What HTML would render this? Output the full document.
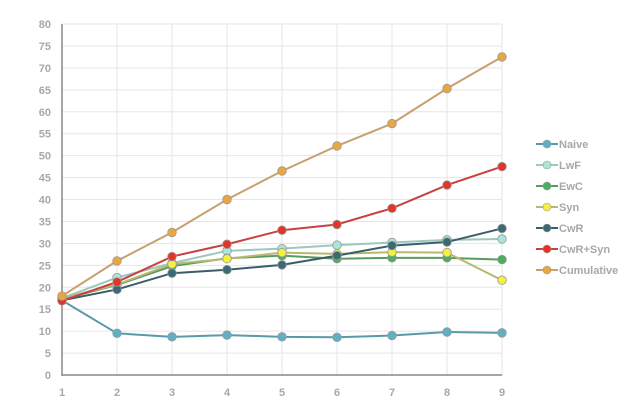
<!DOCTYPE html>
<html><head><meta charset="utf-8"><style>
html,body{margin:0;padding:0;background:#fff;width:644px;height:416px;overflow:hidden}
svg text{font-family:"Liberation Sans",sans-serif;font-weight:bold;fill:#a8a8a8;font-size:11px}
</style></head><body>
<svg id="c" width="644" height="416" xmlns="http://www.w3.org/2000/svg"></svg>
<script>
const s=document.getElementById('c');let h='';
const X=i=>62+(i)*55, Y=v=>375-v*4.3875;
for(let v=0;v<=80;v+=5){h+=`<line x1="62" x2="502" y1="${Y(v)}" y2="${Y(v)}" stroke="#e6e6e6" stroke-width="1"/>`;
h+=`<text x="51" y="${Y(v)+4}" text-anchor="end">${v}</text>`;}
for(let i=1;i<9;i++)h+=`<line x1="${X(i)}" x2="${X(i)}" y1="${Y(80)}" y2="375" stroke="#e6e6e6"/>`;
for(let i=0;i<9;i++)h+=`<text x="${X(i)}" y="396" text-anchor="middle">${i+1}</text>`;
h+=`<line x1="62" x2="62" y1="${Y(80)}" y2="376" stroke="#888" stroke-width="1.5"/><line x1="62" x2="502" y1="375" y2="375" stroke="#888" stroke-width="1.5"/>`;
const S=[
["Naive","#5a9aa8","#5fb0c4",[17,9.5,8.7,9.1,8.7,8.6,9.0,9.8,9.6]],
["LwF","#9cc8c0","#a8e6d8",[17.5,22.2,25.5,28.3,28.8,29.6,30.2,30.8,31]],
["EwC","#5a9a60","#4cae5c",[17.3,20.5,24.8,26.6,27.2,26.5,26.7,26.7,26.3]],
["Syn","#b8b870","#f4f040",[17.5,20.6,25.3,26.5,27.9,27.6,28.0,27.9,21.6]],
["CwR","#3a5e68","#3a6a74",[17,19.5,23.2,24,25.1,27.2,29.5,30.3,33.4]],
["CwR+Syn","#c84040","#e43428",[16.9,21.2,27,29.8,33,34.3,38,43.3,47.5]],
["Cumulative","#c8a070","#eaa640",[18,26,32.5,40,46.5,52.2,57.3,65.3,72.5]]];
S.forEach((d,k)=>{h+=`<polyline fill="none" stroke="${d[1]}" stroke-width="2" points="${d[3].map((v,i)=>X(i)+','+Y(v)).join(' ')}"/>`;});
S.forEach((d,k)=>{d[3].forEach((v,i)=>h+=`<circle cx="${X(i)}" cy="${Y(v)}" r="4.3" fill="${d[2]}" stroke="#999" stroke-width="0.8"/>`);
const ly=144+k*21;h+=`<line x1="536" x2="558" y1="${ly}" y2="${ly}" stroke="${d[1]}" stroke-width="2"/><circle cx="547" cy="${ly}" r="4" fill="${d[2]}" stroke="#999" stroke-width="0.6"/><text x="559" y="${ly+4}">${d[0]}</text>`;});
s.innerHTML=h;
</script>
</body></html>
